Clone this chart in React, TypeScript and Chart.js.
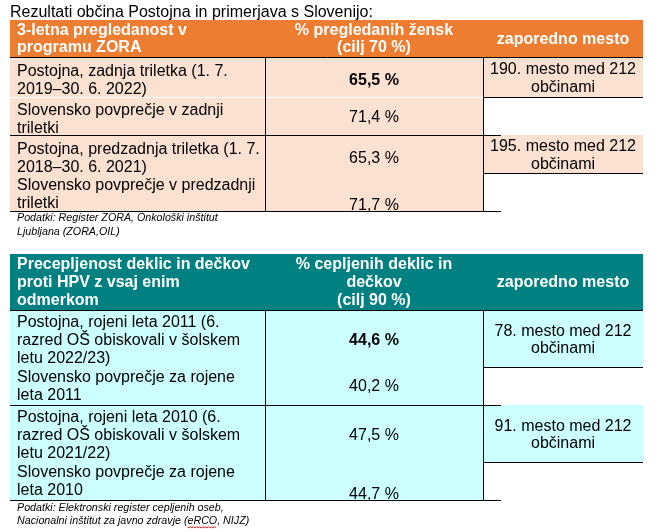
import React, { useEffect, useRef } from "react";
import { Chart, registerables } from "chart.js";
Chart.register(...registerables);

// ---------- data ----------
const TITLE = "Rezultati občina Postojna in primerjava s Slovenijo:";
const MUNICIPALITY_COUNT = 212;

const ZORA_HEADERS = [
  ["3-letna pregledanost v", "programu ZORA"],
  ["% pregledanih žensk", "(cilj 70 %)"],
  ["zaporedno mesto"],
];
const ZORA_LABELS = [
  ["Postojna, zadnja triletka (1. 7.", "2019–30. 6. 2022)"],
  ["Slovensko povprečje v zadnji", "triletki"],
  ["Postojna, predzadnja triletka (1. 7.", "2018–30. 6. 2021)"],
  ["Slovensko povprečje v predzadnji", "triletki"],
];
const ZORA_VALUES = [65.5, 71.4, 65.3, 71.7];
const ZORA_RANKS = [190, 195];
const ZORA_SOURCE = [
  "Podatki: Register ZORA, Onkološki inštitut",
  "Ljubljana (ZORA,OIL)",
];

const HPV_HEADERS = [
  ["Precepljenost deklic in dečkov", "proti HPV z vsaj enim", "odmerkom"],
  ["% cepljenih deklic in", "dečkov", "(cilj 90 %)"],
  ["zaporedno mesto"],
];
const HPV_LABELS = [
  ["Postojna, rojeni leta 2011 (6.", "razred OŠ obiskovali v šolskem", "letu 2022/23)"],
  ["Slovensko povprečje za rojene", "leta 2011"],
  ["Postojna, rojeni leta 2010 (6.", "razred OŠ obiskovali v šolskem", "letu 2021/22)"],
  ["Slovensko povprečje za rojene", "leta 2010"],
];
const HPV_VALUES = [44.6, 40.2, 47.5, 44.7];
const HPV_RANKS = [78, 91];
const HPV_SOURCE = [
  "Podatki: Elektronski register cepljenih oseb,",
  "Nacionalni inštitut za javno zdravje (eRCO, NIJZ)",
];

// ---------- layout / style ----------
const FONT = '"Liberation Sans", Arial, Helvetica, sans-serif';
const COLS = [10, 265, 483, 643];
const LINE_END = 501;
const LH = 17.7;
const CAP = 5.8;

const TABLES = [
  {
    headers: ZORA_HEADERS, labels: ZORA_LABELS, values: ZORA_VALUES, ranks: ZORA_RANKS, source: ZORA_SOURCE,
    head: [20, 57], headColor: "#ED7D31", fill: "#FBE1D1",
    firstOffset: 18.8, paraGap: 0.6,
    groups: [
      { top: 57, bottom: 135, rankBottom: 97, split: 97, bAlign: "split" },
      { top: 135, bottom: 211, rankBottom: 173, split: null, bAlign: "bottom" },
    ],
    sourceY: 221.2,
  },
  {
    headers: HPV_HEADERS, labels: HPV_LABELS, values: HPV_VALUES, ranks: HPV_RANKS, source: HPV_SOURCE,
    head: [254, 310], headColor: "#008080", fill: "#CCFFFF",
    firstOffset: 17.2, paraGap: 1.5,
    groups: [
      { top: 310, bottom: 405, rankBottom: 367, split: null, bAlign: "para" },
      { top: 405, bottom: 500, rankBottom: 462, split: null, bAlign: "bottom" },
    ],
    sourceY: 510.5,
  },
];

const fmt = (v: number) => v.toFixed(1).replace(".", ",") + " %";

function drawTables(chart: any) {
  const ctx: CanvasRenderingContext2D = chart.ctx;
  const xs = chart.scales.x;
  const ys = chart.scales.y;
  const X = (v: number) => xs.getPixelForValue(v);
  const Y = (v: number) => ys.getPixelForValue(v);

  const rect = (x0: number, y0: number, x1: number, y1: number, c: string) => {
    ctx.fillStyle = c;
    ctx.fillRect(X(x0), Y(y0), X(x1) - X(x0), Y(y1) - Y(y0));
  };
  const hline = (x0: number, x1: number, y: number, c = "#000") => {
    ctx.strokeStyle = c;
    ctx.lineWidth = 1;
    ctx.beginPath();
    const py = Math.round(Y(y)) + 0.5;
    ctx.moveTo(X(x0), py);
    ctx.lineTo(X(x1), py);
    ctx.stroke();
  };
  const vline = (x: number, y0: number, y1: number, c = "#000") => {
    ctx.strokeStyle = c;
    ctx.lineWidth = 1;
    ctx.beginPath();
    const px = Math.round(X(x)) + 0.5;
    ctx.moveTo(px, Y(y0));
    ctx.lineTo(px, Y(y1));
    ctx.stroke();
  };
  const text = (s: string, x: number, y: number, align: CanvasTextAlign, font: string, c = "#000") => {
    ctx.font = font;
    ctx.fillStyle = c;
    ctx.textAlign = align;
    ctx.textBaseline = "alphabetic";
    ctx.fillText(s, X(x), Y(y));
  };

  const regular = `16px ${FONT}`;
  const bold = `bold 16px ${FONT}`;
  const italic = `italic 10.7px ${FONT}`;

  ctx.save();
  text(TITLE, 10, 16.8, "left", regular, "#000");

  const c1x = COLS[0] + 7;
  const c2x = (COLS[1] + COLS[2]) / 2;
  const c3x = (COLS[2] + COLS[3]) / 2;

  TABLES.forEach((t) => {
    const [h0, h1] = t.head;
    const last = t.groups[t.groups.length - 1];
    // fills
    rect(COLS[0], h0, COLS[3], h1, t.headColor);
    rect(COLS[0], h1, COLS[2], last.bottom, t.fill);
    t.groups.forEach((g) => rect(COLS[2], g.top, COLS[3], g.rankBottom, t.fill));

    // header text
    const hc = (h0 + h1) / 2 - 0.8;
    t.headers.forEach((lines, ci) => {
      const x = ci === 0 ? c1x : ci === 1 ? c2x : c3x;
      const align: CanvasTextAlign = ci === 0 ? "left" : "center";
      const b0 = hc - ((lines.length - 1) * LH) / 2 + CAP;
      lines.forEach((s, li) => text(s, x, b0 + li * LH, align, bold, "#fff"));
    });

    // body
    t.groups.forEach((g, gi) => {
      const labA = t.labels[gi * 2];
      const labB = t.labels[gi * 2 + 1];
      const startA = g.top + t.firstOffset;
      labA.forEach((s, li) => text(s, c1x, startA + li * LH, "left", regular));
      const startB = g.split != null
        ? g.split + t.firstOffset - 0.6
        : startA + labA.length * LH + t.paraGap;
      labB.forEach((s, li) => text(s, c1x, startB + li * LH, "left", regular));

      // values
      const vA = t.values[gi * 2];
      const vB = t.values[gi * 2 + 1];
      const midA = startA + ((labA.length - 1) * LH) / 2;
      text(fmt(vA), c2x, midA, "center", gi === 0 ? bold : regular);
      let yB: number;
      if (g.bAlign === "split" && g.split != null) yB = (g.split + g.bottom) / 2 + CAP;
      else if (g.bAlign === "para") yB = startB + ((labB.length - 1) * LH) / 2;
      else yB = g.bottom - 1.3;
      text(fmt(vB), c2x, yB, "center", regular);

      // rank
      const rc = (g.top + g.rankBottom) / 2 + 0.3;
      const rl = [`${t.ranks[gi]}. mesto med ${MUNICIPALITY_COUNT}`, "občinami"];
      rl.forEach((s, li) => text(s, c3x, rc - LH / 2 + CAP + li * LH, "center", regular));
    });

    // lines
    hline(COLS[0], COLS[3], h1);
    t.groups.forEach((g) => {
      if (g.split != null) hline(COLS[0], COLS[2], g.split, "#fff");
      hline(COLS[2], COLS[3], g.rankBottom);
      hline(COLS[0], LINE_END, g.bottom);
    });
    vline(COLS[1], h1, last.bottom + 1);
    vline(COLS[2], h1, last.bottom + 1);

    // source note
    t.source.forEach((s, li) => text(s, c1x, t.sourceY + li * 13.6, "left", italic, "#000"));
  });

  // spell-check squiggle under "eRCO"
  const srcLine = HPV_SOURCE[1];
  const idx = srcLine.indexOf("eRCO");
  if (idx >= 0) {
    ctx.font = italic;
    const x0 = X(c1x) + ctx.measureText(srcLine.slice(0, idx)).width;
    const w = ctx.measureText("eRCO").width;
    const by = Y(TABLES[1].sourceY + 13.6) + 2.5;
    ctx.strokeStyle = "#e0201c";
    ctx.lineWidth = 1;
    ctx.beginPath();
    for (let x = 0, k = 0; x <= w; x += 1.5, k++) {
      const yy = by + (k % 2 === 0 ? 0 : 1.5);
      if (x === 0) ctx.moveTo(x0 + x, yy);
      else ctx.lineTo(x0 + x, yy);
    }
    ctx.stroke();
  }
  ctx.restore();
}

const tablePlugin = {
  id: "tablePlugin",
  afterDraw: (chart: any) => drawTables(chart),
};

export default function App() {
  const ref = useRef<HTMLCanvasElement | null>(null);
  useEffect(() => {
    if (!ref.current) return;
    const chart = new Chart(ref.current, {
      type: "scatter",
      data: { datasets: [] },
      options: {
        animation: false,
        responsive: true,
        maintainAspectRatio: false,
        events: [],
        layout: { padding: 0 },
        scales: {
          x: { type: "linear", min: 0, max: 657, display: false },
          y: { type: "linear", min: 0, max: 532, reverse: true, display: false },
        },
        plugins: { legend: { display: false }, tooltip: { enabled: false } },
      },
      plugins: [tablePlugin],
    });
    return () => chart.destroy();
  }, []);
  return (
    <div style={{ position: "fixed", left: 0, top: 0, width: 657, height: 532, background: "#fff" }}>
      <canvas ref={ref} />
    </div>
  );
}
